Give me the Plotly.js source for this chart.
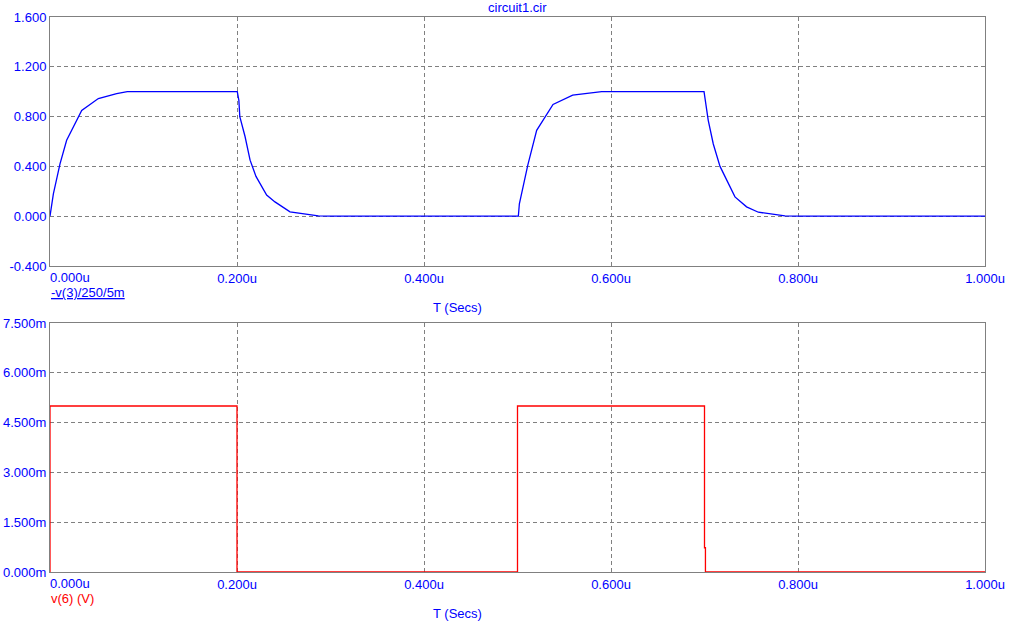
<!DOCTYPE html>
<html>
<head>
<meta charset="utf-8">
<script src="https://cdn.plot.ly/plotly-3.0.1.min.js"></script>
<style>html,body{margin:0;padding:0;background:#fff;}#chart{width:1020px;height:628px;}</style>
</head>
<body>
<div id="chart"></div>
<script>
// Top trace: -v(3)/250/5m  (time in microseconds)
var timeTop = [0, 0.0036, 0.0107, 0.0178, 0.0339, 0.0517, 0.0713, 0.0827, 0.2003, 0.202, 0.203, 0.2086, 0.214, 0.2203, 0.2317, 0.2406, 0.2567, 0.276, 0.287, 0.30,
               0.5009, 0.502, 0.511, 0.5205, 0.538, 0.559, 0.576, 0.59, 0.6995, 0.704, 0.7094, 0.7166, 0.7326, 0.745, 0.7576, 0.786, 0.80, 1.0];
var valTop  = [0, 0.18, 0.42, 0.61, 0.85, 0.945, 0.985, 1.0, 1.0, 0.93, 0.80, 0.64, 0.45, 0.32, 0.17, 0.115, 0.035, 0.013, 0.002, 0,
               0, 0.10, 0.41, 0.69, 0.897, 0.972, 0.985, 1.0, 1.0, 0.77, 0.58, 0.40, 0.155, 0.075, 0.032, 0.003, 0, 0];

// Bottom trace: v(6) in mV
var timeBot = [0, 0, 0.2, 0.2, 0.5, 0.5, 0.7, 0.7, 0.701, 0.701, 1.0];
var valBot  = [0, 5, 5, 0, 0, 5, 5, 0.73, 0.73, 0, 0];

var xTickVals = [0, 0.2, 0.4, 0.6, 0.8, 1.0];
var xTickText = ["0.000u", "0.200u", "0.400u", "0.600u", "0.800u", "1.000u"];
var yTopVals = [-0.4, 0, 0.4, 0.8, 1.2, 1.6];
var yTopText = ["-0.400", "0.000", "0.400", "0.800", "1.200", "1.600"];
var yBotVals = [0, 1.5, 3, 4.5, 6, 7.5];
var yBotText = ["0.000m", "1.500m", "3.000m", "4.500m", "6.000m", "7.500m"];

var titleText = "circuit1.cir";
var topLabel = "-v(3)/250/5m";
var botLabel = "v(6) (V)";
var xLabel = "T (Secs)";

var BLUE = "#0000FF", RED = "#FF0000", GRAY = "#808080";
var FONT = "Liberation Sans, Arial, sans-serif";

// first tick label is drawn left-aligned at the axis start (as an annotation)
var xTickTextShown = xTickText.map(function(t, i){ return i === 0 ? "" : t; });

var L = 50, R = 35, T = 17, B = 56, W = 1020, H = 628;
var PW = W - L - R, PH = H - T - B;
function px(p){ return (p - L) / PW; }
function py(p){ return (H - B - p) / PH; }

var traces = [
  {x: timeTop, y: valTop, xaxis: 'x', yaxis: 'y', type: 'scatter', mode: 'lines',
   line: {color: BLUE, width: 1.3}, cliponaxis: false, hoverinfo: 'skip'},
  {x: timeBot, y: valBot, xaxis: 'x2', yaxis: 'y2', type: 'scatter', mode: 'lines',
   line: {color: RED, width: 1.3}, cliponaxis: false, hoverinfo: 'skip'}
];

function xax(anchor){
  return {anchor: anchor, domain: [0, 1], range: [0, 1], tickvals: xTickVals, ticktext: xTickTextShown,
    showline: true, mirror: true, linecolor: GRAY, linewidth: 1, ticks: '',
    showgrid: true, gridcolor: GRAY, gridwidth: 1, griddash: '4px,3px', zeroline: false,
    layer: 'below traces', tickfont: {family: FONT, size: 13, color: BLUE}, fixedrange: true};
}
function yax(anchor, dom, rng, vals, text){
  return {anchor: anchor, domain: dom, range: rng, tickvals: vals, ticktext: text,
    showline: true, mirror: true, linecolor: GRAY, linewidth: 1, ticks: '',
    showgrid: true, gridcolor: GRAY, gridwidth: 1, griddash: '4px,3px', zeroline: false,
    layer: 'below traces', tickfont: {family: FONT, size: 13, color: BLUE}, fixedrange: true};
}

var annotations = [
  {text: titleText, xref: 'paper', yref: 'paper', x: px(517), y: py(8), xanchor: 'center', yanchor: 'middle',
   showarrow: false, font: {family: FONT, size: 13, color: BLUE}},
  {text: '<u>' + topLabel + '</u>', xref: 'paper', yref: 'paper', x: px(49), y: py(292), xanchor: 'left', yanchor: 'middle',
   showarrow: false, font: {family: FONT, size: 13, color: BLUE}},
  {text: xLabel, xref: 'paper', yref: 'paper', x: px(457), y: py(307), xanchor: 'center', yanchor: 'middle',
   showarrow: false, font: {family: FONT, size: 13, color: BLUE}},
  {text: botLabel, xref: 'paper', yref: 'paper', x: px(49), y: py(598), xanchor: 'left', yanchor: 'middle',
   showarrow: false, font: {family: FONT, size: 13, color: RED}},
  {text: xLabel, xref: 'paper', yref: 'paper', x: px(457), y: py(613), xanchor: 'center', yanchor: 'middle',
   showarrow: false, font: {family: FONT, size: 13, color: BLUE}},
  {text: xTickText[0], xref: 'x', yref: 'paper', x: xTickVals[0], y: py(277.5), xanchor: 'left', yanchor: 'middle',
   xshift: -2, showarrow: false, font: {family: FONT, size: 13, color: BLUE}},
  {text: xTickText[0], xref: 'x2', yref: 'paper', x: xTickVals[0], y: py(583.5), xanchor: 'left', yanchor: 'middle',
   xshift: -2, showarrow: false, font: {family: FONT, size: 13, color: BLUE}}
];

var layout = {
  width: W, height: H,
  margin: {l: L, r: R, t: T, b: B, pad: 0},
  paper_bgcolor: '#fff', plot_bgcolor: '#fff',
  showlegend: false,
  xaxis: xax('y'),
  yaxis: yax('x', [py(266), 1], [-0.4, 1.6], yTopVals, yTopText),
  xaxis2: xax('y2'),
  yaxis2: yax('x2', [0, py(323)], [0, 7.5], yBotVals, yBotText),
  annotations: annotations
};

Plotly.newPlot('chart', traces, layout, {displayModeBar: false, staticPlot: true});
</script>
</body>
</html>
